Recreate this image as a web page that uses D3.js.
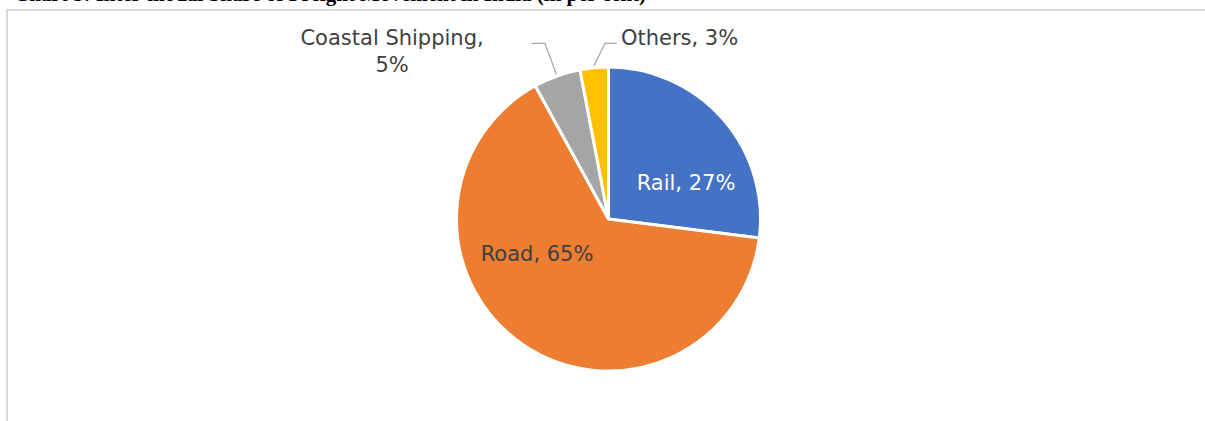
<!DOCTYPE html>
<html>
<head>
<meta charset="utf-8">
<script src="https://cdn.jsdelivr.net/npm/d3@7"></script>
<style>
  body { margin: 0; background: #fff; }
  svg { display: block; }
  .lbl { font-family: "DejaVu Sans", sans-serif; font-size: 21px; }
</style>
</head>
<body>
<div id="chart"></div>
<script>
(function(){
	var width = 1205,
	    height = 421;

	// data
	var modes  = ["Rail", "Road", "Coastal Shipping", "Others"];
	var shares = [27, 65, 5, 3];
	var colors = ["#4472c4", "#ed7d31", "#a5a5a5", "#ffc000"];

	var svg = d3.select("#chart")
	  .append("svg")
	  .attr("width", width)
	  .attr("height", height)

	// title is cropped at the top of the picture
	svg.append("text")
	  .attr("x", 14)
	  .attr("y", 1)
	  .style("font-family", "Liberation Serif, serif")
	  .style("font-weight", "bold")
	  .style("font-size", "21px")
	  .attr("fill", "#000")
	  .text("Chart 3: Inter-modal Share of Freight Movement in India (in per cent)")

	// chart area border (top and left only visible)
	svg.append("path")
	  .attr("d", "M7,421 V10 H1205")
	  .attr("fill", "none")
	  .attr("stroke", "#d9d9d9")
	  .attr("stroke-width", 2)

	var cx = 608.5, cy = 219, r = 152;

	var g = svg.append("g")
	  .attr("transform", "translate(" + cx + "," + cy + ")")

	var data = modes.map(function(m, i) {
		return { mode: m, value: shares[i], color: colors[i] }
	})

	var pie = d3.pie()
	  .sort(null)
	  .value(function(d) { return d.value })

	var arc = d3.arc().innerRadius(0).outerRadius(r)

	var arcs = pie(data)

	g.selectAll(".slice")
	  .data(arcs)
	  .enter().append("path")
	  .attr("class", "slice")
	  .attr("d", arc)
	  .attr("fill", function(d) { return d.data.color })
	  .attr("stroke", "#fff")
	  .attr("stroke-width", 3)
	  .attr("stroke-linejoin", "round")

	// label placement, in units of the radius
	var layout = {
		"Rail": { x: 0.51, y: -0.24, fill: "#fff", anchor: "middle" },
		"Road": { x: -0.47, y: 0.23, fill: "#404040", anchor: "middle" },
		"Coastal Shipping": { x: -1.424, y: -1.195, fill: "#404040", anchor: "middle",
		                      twoLines: true, elbow: [-0.418, -1.156], end: -0.505 },
		"Others": { x: 0.082, y: -1.195, fill: "#404040", anchor: "start",
		            elbow: [-0.023, -1.156], end: 0.054 }
	}

	// leader lines for outside labels
	var outer = d3.arc().innerRadius(r + 2).outerRadius(r + 2)
	arcs.forEach(function(d) {
		var L = layout[d.data.mode]
		if (!L.elbow) return
		var p = outer.centroid(d)
		var line = d3.line()
		g.append("path")
		  .attr("d", line([p, [L.elbow[0] * r, L.elbow[1] * r], [L.end * r, L.elbow[1] * r]]))
		  .attr("fill", "none")
		  .attr("stroke", "#a6a6a6")
		  .attr("stroke-width", 1.3)
	})

	// labels
	arcs.forEach(function(d) {
		var L = layout[d.data.mode]
		var t = g.append("text")
		  .attr("class", "lbl")
		  .attr("text-anchor", L.anchor)
		  .attr("fill", L.fill)
		  .attr("x", L.x * r)
		  .attr("y", L.y * r)
		if (L.twoLines) {
			t.append("tspan").attr("x", L.x * r).attr("dy", "0.35em").text(d.data.mode + ",")
			t.append("tspan").attr("x", L.x * r).attr("dy", 27).text(d.data.value + "%")
		} else {
			t.attr("dy", "0.35em").text(d.data.mode + ", " + d.data.value + "%")
		}
	})
})();
</script>
</body>
</html>
